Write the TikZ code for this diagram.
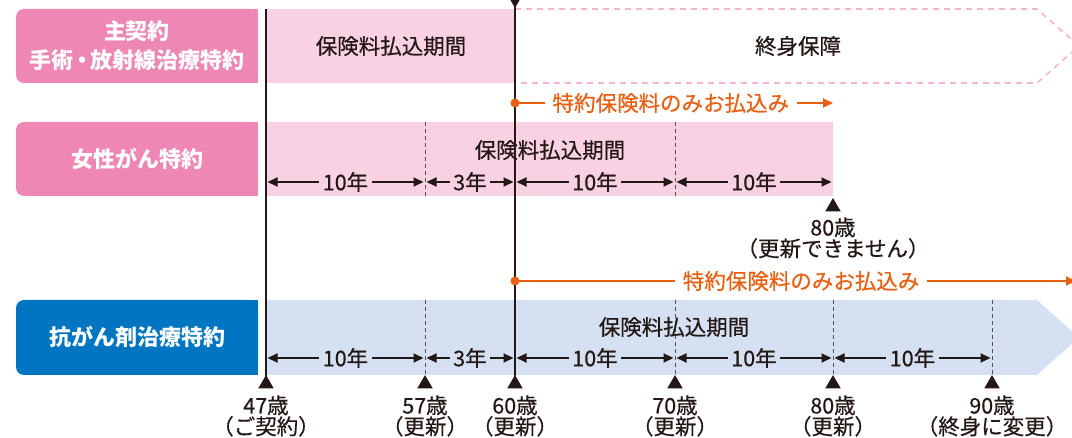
\documentclass[tikz,border=0pt]{standalone}
\usepackage{fontspec}
\setmainfont{Noto Sans CJK JP}
\newfontfamily\medfont[FakeBold=0.5]{Noto Sans CJK JP}
\usetikzlibrary{arrows.meta,shapes.geometric}
\definecolor{headpink}{HTML}{EE87B3}
\definecolor{lightpink}{HTML}{F8D1E3}
\definecolor{dashpink}{HTML}{F4B5D0}
\definecolor{headblue}{HTML}{0075C1}
\definecolor{lightblue}{HTML}{D5E1F2}
\definecolor{payorange}{HTML}{EA6012}
\definecolor{ink}{HTML}{231815}
\tikzset{
  head/.style={text=white,font=\fontsize{22}{29}\selectfont\bfseries,align=center},
  term/.style={font=\fontsize{21.5}{21}\selectfont\medfont,text=ink},
  span/.style={{Triangle[length=10pt,width=9pt]}-{Triangle[length=10pt,width=9pt]},line width=2pt,draw=ink,shorten <=1.5pt,shorten >=1.5pt},
  yr/.style={term,inner ysep=1.5pt,inner xsep=3.5pt,fill=#1},
  tri/.style={regular polygon,regular polygon sides=3,fill=ink,inner sep=0pt,minimum size=18pt},
  sep/.style={draw=ink!75,dash pattern=on 4pt off 3pt,line width=0.9pt},
  axis/.style={draw=ink,line width=2.6pt},
  age/.style={term,align=center},
  dot/.style={circle,fill=payorange,inner sep=0pt,minimum size=9pt},
  pay/.style={draw=payorange,line width=2pt,-{Triangle[length=10pt,width=9pt]}},
  paytext/.style={font=\fontsize{21.5}{24}\selectfont\medfont,text=payorange,fill=white,inner ysep=2pt,inner xsep=8pt}
}
\begin{document}
\begin{tikzpicture}[x=1pt,y=-1pt]
  \useasboundingbox (0,0) rectangle (1072,438);
  % row backgrounds
  \fill[headpink,rounded corners=8pt] (16,9) rectangle (258,83);
  \fill[headpink] (200,9) rectangle (258,83);
  \fill[lightpink] (266,9) rectangle (515,83);
  \draw[dashpink,line width=1.6pt,dash pattern=on 6pt off 5pt]
    (515,9) -- (1037,9) -- (1079,46) -- (1037,83) -- (515,83);
  \fill[headpink,rounded corners=8pt] (16,122) rectangle (258,196);
  \fill[headpink] (200,122) rectangle (258,196);
  \fill[lightpink] (266,122) rectangle (833,196);
  \fill[headblue,rounded corners=8pt] (16,300) rectangle (258,375);
  \fill[headblue] (200,300) rectangle (258,375);
  \fill[lightblue] (266,300) -- (1037,300) -- (1079,337.5) -- (1037,375) -- (266,375) -- cycle;
  \draw[sep] (425,122) -- (425,196);
  \draw[sep] (675,122) -- (675,196);
  \draw[sep] (425,300) -- (425,375);
  \draw[sep] (675,300) -- (675,375);
  \draw[sep] (833,300) -- (833,375);
  \draw[sep] (992,300) -- (992,375);
  % labels
  \node[head] (h1) at (137,46) {主契約\\手術\kern-3pt・\kern-3pt放射線治療特約};
  \node[head] (h2) at (137,159) {女性がん特約};
  \node[head] (h3) at (137,337) {抗がん剤治療特約};
  \node[term] (p1) at (391,46) {保険料払込期間};
  \node[term] (life) at (798,46) {終身保障};
  \node[term] (p2) at (550,150) {保険料払込期間};
  \node[term] (p3) at (674,327) {保険料払込期間};
  % terms
  \coordinate (f47) at (266,182);
  \coordinate (f57) at (425,182);
  \coordinate (f60) at (515,182);
  \coordinate (f70) at (675,182);
  \coordinate (f80) at (833,182);
  \coordinate (g47) at (266,358);
  \coordinate (g57) at (425,358);
  \coordinate (g60) at (515,358);
  \coordinate (g70) at (675,358);
  \coordinate (g80) at (833,358);
  \coordinate (g90) at (992,358);
  \begin{scope}
    \draw[span] (f47) -- node[yr=lightpink] {10年} (f57);
    \draw[span] (f57) -- node[yr=lightpink] {3年} (f60);
    \draw[span] (f60) -- node[yr=lightpink] {10年} (f70);
    \draw[span] (f70) -- node[yr=lightpink] {10年} (f80);
    \draw[span] (g47) -- node[yr=lightblue] {10年} (g57);
    \draw[span] (g57) -- node[yr=lightblue] {3年} (g60);
    \draw[span] (g60) -- node[yr=lightblue] {10年} (g70);
    \draw[span] (g70) -- node[yr=lightblue] {10年} (g80);
    \draw[span] (g80) -- node[yr=lightblue] {10年} (g90);
  \end{scope}
  % ages
  \node[tri] (t47) at (266,384) {};
  \node[tri] (t57) at (425,384) {};
  \node[tri] (t60) at (515,384) {};
  \node[tri] (t70) at (675,384) {};
  \node[tri] (t80) at (833,384) {};
  \node[tri] (t90) at (992,384) {};
  \node[tri] (end) at (833,207) {};
  \node[tri,shape border rotate=180] (start) at (515,-1) {};
  \coordinate (top47) at (266,9);
  \draw[axis] (top47) -- (t47.center);
  \draw[axis] (start.center) -- (t60.center);
  \node[age] (a47) at (266,416) {47歳\\（ご契約）};
  \node[age] (a57) at (425,416) {57歳\\（更新）};
  \node[age] (a60) at (515,416) {60歳\\（更新）};
  \node[age] (a70) at (675,416) {70歳\\（更新）};
  \node[age] (a80) at (833,416) {80歳\\（更新）};
  \node[age] (a90) at (992,416) {90歳\\（終身に変更）};
  \node[age] (a80x) at (833,238) {80歳\\（更新できません）};
  % premiums
  \node[dot] (d1) at (515,103) {};
  \coordinate (e1) at (833,103);
  \draw[pay] (d1.center) -- node[paytext,pos=0.49] {特約保険料のみお払込み} (e1);
  \node[dot] (d2) at (515,281) {};
  \coordinate (e2) at (1076,281);
  \draw[pay] (d2.center) -- node[paytext,pos=0.51] {特約保険料のみお払込み} (e2);
\end{tikzpicture}
\end{document}
